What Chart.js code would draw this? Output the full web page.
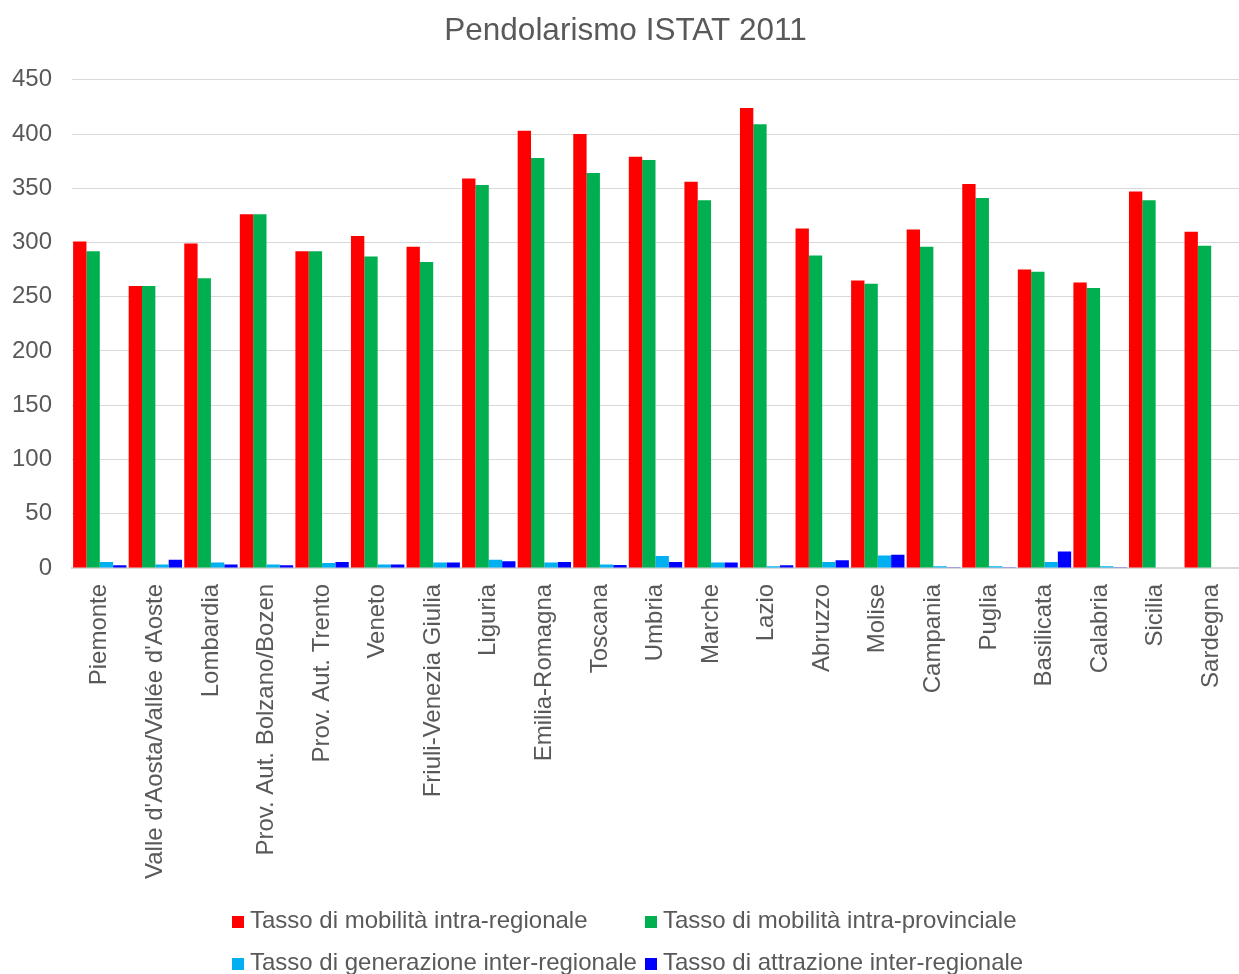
<!DOCTYPE html>
<html>
<head>
<meta charset="utf-8">
<script src="https://cdn.jsdelivr.net/npm/chart.js@4/dist/chart.umd.min.js"></script>
<style>
  html, body { margin: 0; padding: 0; background: #fff; }
  #wrap { position: relative; width: 1239px; height: 974px; }
  #legend { position: absolute; left: 0; top: 0; width: 1239px; height: 974px; pointer-events: none;
    font-family: "Liberation Sans", Arial, sans-serif; font-size: 24px; color: #595959; }
  .item { position: absolute; white-space: nowrap; line-height: 24px; }
  .box { display: inline-block; width: 12px; height: 12px; margin-right: 6px; vertical-align: 0px; }
</style>
</head>
<body>
<div id="wrap">
  <canvas id="chart" width="1239" height="974"></canvas>
  <div id="legend"></div>
</div>
<script>
// Regioni
const regions = [
  'Piemonte', "Valle d'Aosta/Vallée d'Aoste", 'Lombardia', 'Prov. Aut. Bolzano/Bozen',
  'Prov. Aut. Trento', 'Veneto', 'Friuli-Venezia Giulia', 'Liguria', 'Emilia-Romagna',
  'Toscana', 'Umbria', 'Marche', 'Lazio', 'Abruzzo', 'Molise', 'Campania', 'Puglia',
  'Basilicata', 'Calabria', 'Sicilia', 'Sardegna'
];

// Valori
const intraRegionale = [301, 260, 299, 326, 292, 306, 296, 359, 403, 400, 379, 356, 424, 313, 265, 312, 354, 275, 263, 347, 310];
const intraProvinciale = [292, 260, 267, 326, 292, 287, 282, 353, 378, 364, 376, 339, 409, 288, 262, 296, 341, 273, 258, 339, 297];
const generazioneInter = [5.5, 3, 5, 3, 4.5, 3, 5, 7.5, 5, 3, 11, 5, 1.5, 5.5, 11.5, 1.5, 1.5, 5.5, 1.5, 0, 0];
const attrazioneInter = [2.5, 7.5, 3, 2.5, 5.5, 3, 5, 6, 5.5, 2.7, 5.5, 5, 2.5, 7, 12, 0.5, 0.5, 15, 0.5, 0, 0];

const yTicks = [0, 50, 100, 150, 200, 250, 300, 350, 400, 450];

const seriesNames = [
  'Tasso di mobilità intra-regionale',
  'Tasso di mobilità intra-provinciale',
  'Tasso di generazione inter-regionale',
  'Tasso di attrazione inter-regionale'
];

const colors = {
  red: '#FF0000',
  green: '#00B050',
  lightBlue: '#00B0F0',
  blue: '#0000FF',
  text: '#595959',
  grid: '#D9D9D9'
};

const font = '"Liberation Sans", Arial, sans-serif';

function makeDataset(label, data, color) {
  return {
    label: label,
    data: data,
    backgroundColor: color,
    borderWidth: 0,
    barPercentage: 1,
    categoryPercentage: 0.96
  };
}

const ctx = document.getElementById('chart');
new Chart(ctx, {
  type: 'bar',
  data: {
    labels: regions,
    datasets: [
      makeDataset(seriesNames[0], intraRegionale, colors.red),
      makeDataset(seriesNames[1], intraProvinciale, colors.green),
      makeDataset(seriesNames[2], generazioneInter, colors.lightBlue),
      makeDataset(seriesNames[3], attrazioneInter, colors.blue)
    ]
  },
  options: {
    responsive: false,
    animation: false,
    layout: { padding: { left: 12, right: 0, top: 12, bottom: 87 } },
    plugins: {
      legend: { display: false },
      tooltip: { enabled: false },
      title: {
        display: true,
        text: 'Pendolarismo ISTAT 2011',
        color: colors.text,
        font: { family: font, size: 31.5, weight: 'normal' },
        padding: { top: 0, bottom: 30 }
      }
    },
    scales: {
      x: {
        grid: { display: false },
        border: { display: true, color: colors.grid, width: 2 },
        afterFit: (axis) => { axis.paddingLeft = 0; axis.paddingRight = 0; },
        ticks: {
          color: colors.text,
          font: { family: font, size: 24 },
          minRotation: 90,
          maxRotation: 90,
          autoSkip: false,
          padding: 8
        }
      },
      y: {
        min: 0,
        max: 450,
        afterBuildTicks: (axis) => { axis.ticks = yTicks.map(v => ({ value: v })); },
        afterFit: (axis) => { axis.width = 60; },
        grid: { color: colors.grid, lineWidth: 1, drawTicks: false },
        border: { display: false },
        ticks: {
          color: colors.text,
          font: { family: font, size: 24 },
          padding: 20
        }
      }
    }
  }
});

// Legenda su due colonne come nell'originale
const legendPos = [
  { x: 232, y: 908 }, { x: 645, y: 908 },
  { x: 232, y: 950 }, { x: 645, y: 950 }
];
const legendColors = [colors.red, colors.green, colors.lightBlue, colors.blue];
const legend = document.getElementById('legend');
seriesNames.forEach((name, i) => {
  const el = document.createElement('div');
  el.className = 'item';
  el.style.left = legendPos[i].x + 'px';
  el.style.top = legendPos[i].y + 'px';
  el.innerHTML = '<span class="box" style="background:' + legendColors[i] + '"></span>' + name;
  legend.appendChild(el);
});
</script>
</body>
</html>
